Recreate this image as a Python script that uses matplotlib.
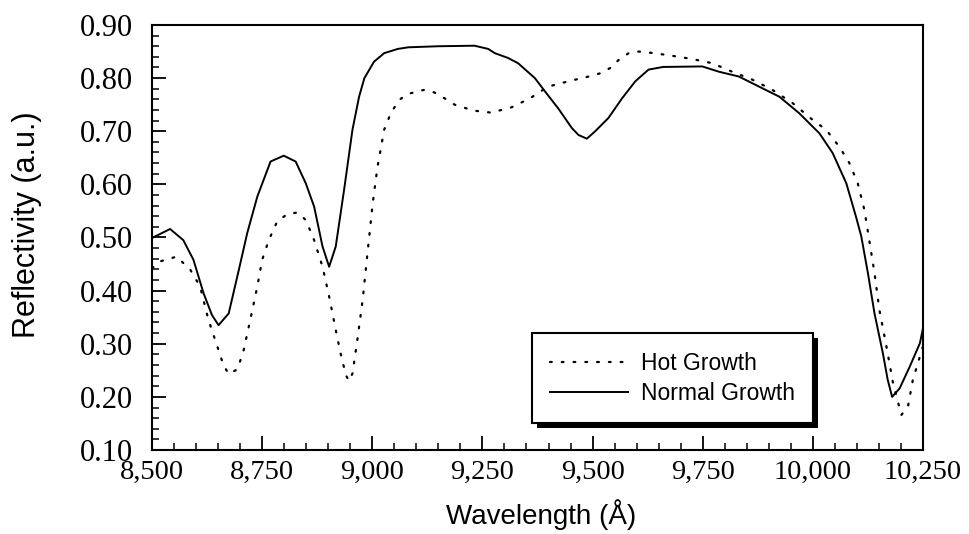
"""Reflectivity spectra: hot growth vs normal growth."""
import matplotlib
matplotlib.use("Agg")
from matplotlib import pyplot as plt
from matplotlib.patches import Rectangle
from matplotlib.ticker import MultipleLocator, FuncFormatter

# Normal growth (solid)
normal_wl = [8500, 8541, 8571, 8594, 8617, 8636, 8651, 8674, 8697, 8716, 8739,
             8769, 8799, 8826, 8849, 8868, 8887, 8902, 8917, 8936, 8955, 8970,
             8982, 9004, 9027, 9058, 9082, 9150, 9232, 9263, 9278, 9308, 9331,
             9369, 9392, 9422, 9453, 9468, 9487, 9506, 9536, 9567, 9597, 9627,
             9660, 9749, 9787, 9832, 9878, 9924, 9969, 10015, 10045, 10076,
             10098, 10110, 10125, 10140, 10159, 10170, 10180, 10197, 10220,
             10243, 10250]
normal_r = [0.499, 0.516, 0.495, 0.458, 0.395, 0.354, 0.335, 0.357, 0.439, 0.508,
            0.577, 0.643, 0.654, 0.643, 0.602, 0.558, 0.483, 0.445, 0.483, 0.590,
            0.703, 0.765, 0.800, 0.831, 0.847, 0.855, 0.858, 0.860, 0.861, 0.855,
            0.847, 0.838, 0.828, 0.800, 0.775, 0.743, 0.706, 0.693, 0.686, 0.700,
            0.725, 0.762, 0.794, 0.816, 0.821, 0.822, 0.812, 0.803, 0.784, 0.765,
            0.734, 0.696, 0.659, 0.602, 0.539, 0.502, 0.433, 0.357, 0.282, 0.232,
            0.200, 0.216, 0.257, 0.301, 0.329]

# Hot growth (dotted)
hot_wl = [8500, 8518, 8556, 8587, 8609, 8628, 8647, 8662, 8674, 8694, 8708,
          8723, 8739, 8750, 8765, 8784, 8807, 8830, 8849, 8868, 8887, 8902,
          8917, 8928, 8940, 8947, 8955, 8966, 8978, 8989, 9001, 9012, 9027,
          9042, 9061, 9080, 9118, 9141, 9164, 9187, 9229, 9270, 9316, 9358,
          9399, 9445, 9491, 9517, 9540, 9559, 9582, 9605, 9640, 9681, 9726,
          9772, 9817, 9863, 9908, 9954, 10000, 10030, 10060, 10083, 10102,
          10117, 10128, 10140, 10151, 10167, 10182, 10201, 10216, 10227,
          10243, 10250]
hot_r = [0.442, 0.455, 0.464, 0.439, 0.408, 0.345, 0.298, 0.260, 0.243, 0.252,
         0.288, 0.345, 0.408, 0.458, 0.495, 0.530, 0.544, 0.547, 0.533, 0.495,
         0.445, 0.389, 0.326, 0.282, 0.241, 0.230, 0.244, 0.307, 0.382, 0.470,
         0.565, 0.634, 0.703, 0.734, 0.759, 0.770, 0.778, 0.773, 0.762, 0.750,
         0.739, 0.735, 0.745, 0.762, 0.784, 0.794, 0.803, 0.809, 0.819, 0.834,
         0.847, 0.850, 0.847, 0.842, 0.836, 0.828, 0.812, 0.797, 0.778, 0.753,
         0.721, 0.703, 0.671, 0.640, 0.602, 0.552, 0.495, 0.433, 0.364, 0.295,
         0.226, 0.166, 0.182, 0.232, 0.276, 0.295]

SERIF = ["Liberation Serif", "DejaVu Serif"]
SANS = ["Liberation Sans", "DejaVu Sans"]

fig = plt.figure(figsize=(9.69, 5.34), dpi=100)
ax = fig.add_axes([0.1569, 0.1573, 0.7956, 0.7959])

ax.plot(hot_wl, hot_r, color="black", lw=1.6, linestyle=(0, (0.8, 4.5)),
        dash_capstyle="round", label="Hot Growth")
ax.plot(normal_wl, normal_r, color="black", lw=1.4, label="Normal Growth")

ax.set_xlim(8500, 10250)
ax.set_ylim(0.10, 0.90)
ax.xaxis.set_major_locator(MultipleLocator(250))
ax.xaxis.set_minor_locator(MultipleLocator(50))
ax.yaxis.set_major_locator(MultipleLocator(0.10))
ax.yaxis.set_minor_locator(MultipleLocator(0.02))
ax.xaxis.set_major_formatter(FuncFormatter(lambda v, p: f"{v:,.0f}"))
ax.yaxis.set_major_formatter(FuncFormatter(lambda v, p: f"{v:.2f}"))
ax.tick_params(which="major", direction="in", length=10, width=1.3)
ax.tick_params(which="minor", direction="in", length=5, width=1.1)
ax.tick_params(axis="x", which="major", labelsize=20.5, pad=7)
ax.tick_params(axis="y", which="major", labelsize=22, pad=14)
for lab in ax.get_xticklabels() + ax.get_yticklabels():
    lab.set_family(SERIF)
for s in ax.spines.values():
    s.set_linewidth(1.5)

ax.set_xlabel("Wavelength (Å)", family=SANS, fontsize=20)
ax.set_ylabel("Reflectivity (a.u.)", family=SANS, fontsize=22)
ax.xaxis.set_label_coords(0.505, -0.115)
ax.yaxis.set_label_coords(-0.143, 0.531)

leg = ax.legend(loc="lower left", bbox_to_anchor=(0.493, 0.0635, 0.364, 0.21),
                mode="expand", borderaxespad=0, fancybox=False, framealpha=1,
                edgecolor="black", prop={"family": SANS, "size": 16.5},
                handlelength=3.4, handletextpad=0.57, borderpad=0.8,
                labelspacing=0.3)
leg.get_frame().set_linewidth(1.5)
leg.set_zorder(6)

# heavy drop shadow on right and bottom edges of the legend box
fig.canvas.draw()
bb = leg.get_window_extent()
shadow = Rectangle((bb.x0 + 5, bb.y0 - 5), bb.width, bb.height,
                   transform=None, facecolor="black", edgecolor="none",
                   zorder=5, clip_on=False)
ax.add_artist(shadow)

fig.savefig("out.png", dpi=100)
